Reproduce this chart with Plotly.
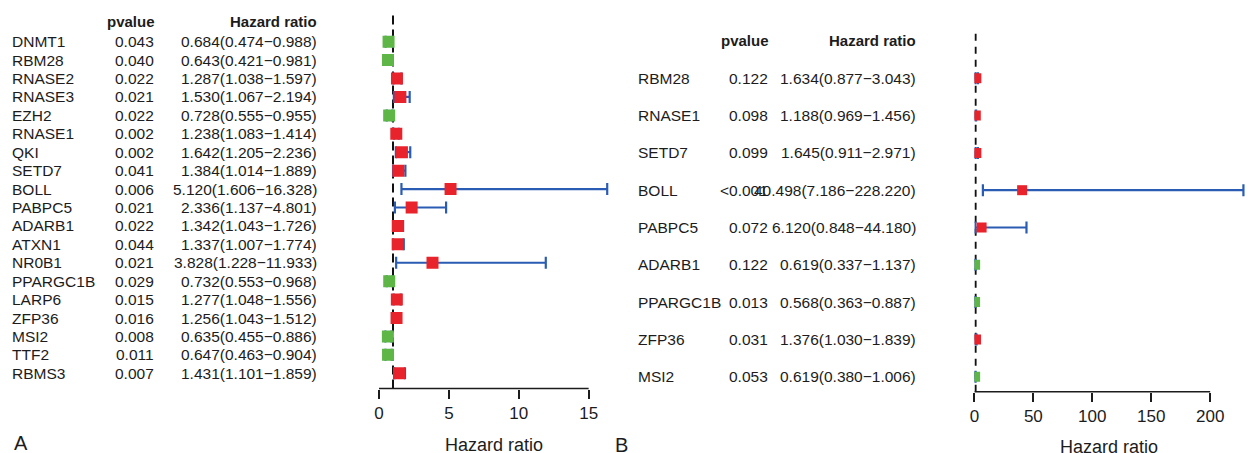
import plotly.graph_objects as go

W, H = 1249, 453

# ---------------- data: panel A ----------------
genes_a = ["DNMT1", "RBM28", "RNASE2", "RNASE3", "EZH2", "RNASE1", "QKI", "SETD7",
           "BOLL", "PABPC5", "ADARB1", "ATXN1", "NR0B1", "PPARGC1B", "LARP6",
           "ZFP36", "MSI2", "TTF2", "RBMS3"]
pval_a = ["0.043", "0.040", "0.022", "0.021", "0.022", "0.002", "0.002", "0.041",
          "0.006", "0.021", "0.022", "0.044", "0.021", "0.029", "0.015",
          "0.016", "0.008", "0.011", "0.007"]
hr_a = [0.684, 0.643, 1.287, 1.530, 0.728, 1.238, 1.642, 1.384, 5.120, 2.336,
        1.342, 1.337, 3.828, 0.732, 1.277, 1.256, 0.635, 0.647, 1.431]
lo_a = [0.474, 0.421, 1.038, 1.067, 0.555, 1.083, 1.205, 1.014, 1.606, 1.137,
        1.043, 1.007, 1.228, 0.553, 1.048, 1.043, 0.455, 0.463, 1.101]
hi_a = [0.988, 0.981, 1.597, 2.194, 0.955, 1.414, 2.236, 1.889, 16.328, 4.801,
        1.726, 1.774, 11.933, 0.968, 1.556, 1.512, 0.886, 0.904, 1.859]
ticks_a = [0, 5, 10, 15]

# ---------------- data: panel B ----------------
genes_b = ["RBM28", "RNASE1", "SETD7", "BOLL", "PABPC5", "ADARB1", "PPARGC1B", "ZFP36", "MSI2"]
pval_b = ["0.122", "0.098", "0.099", "<0.001", "0.072", "0.122", "0.013", "0.031", "0.053"]
hr_b = [1.634, 1.188, 1.645, 40.498, 6.120, 0.619, 0.568, 1.376, 0.619]
lo_b = [0.877, 0.969, 0.911, 7.186, 0.848, 0.337, 0.363, 1.030, 0.380]
hi_b = [3.043, 1.456, 2.971, 228.220, 44.180, 1.137, 0.887, 1.839, 1.006]
ticks_b = [0, 50, 100, 150, 200]

# ---------------- style ----------------
FONT = "Liberation Sans, Arial, Helvetica, sans-serif"
TXT = "#1c1c1c"
RED = "#E8232B"
GREEN = "#5DB646"
BLUE = "#2B5CB4"


def py(p):
    """pixel row (from top) -> paper y"""
    return 1 - p / H


def px(p):
    return p / W


def hr_label(h, l, u):
    return f"{h:.3f}({l:.3f}\u2212{u:.3f})"


fig = go.Figure()

panels = [
    dict(genes=genes_a, pv=pval_a, hr=hr_a, lo=lo_a, hi=hi_a, ticks=ticks_a,
         xa="x", ya="y", msize=12),
    dict(genes=genes_b, pv=pval_b, hr=hr_b, lo=lo_b, hi=hi_b, ticks=ticks_b,
         xa="x2", ya="y2", msize=10),
]

for pn in panels:
    n = len(pn["genes"])
    fig.add_trace(go.Scatter(
        x=pn["hr"], y=list(range(n)), mode="markers",
        xaxis=pn["xa"], yaxis=pn["ya"],
        marker=dict(symbol="square", size=pn["msize"],
                    color=[RED if h > 1 else GREEN for h in pn["hr"]],
                    line=dict(width=0)),
        error_x=dict(type="data", symmetric=False,
                     array=[u - h for h, u in zip(pn["hr"], pn["hi"])],
                     arrayminus=[h - l for h, l in zip(pn["hr"], pn["lo"])],
                     color=BLUE, thickness=2.2, width=6),
        showlegend=False, hoverinfo="skip",
    ))

# geometry (pixels)
A_x0, A_scale, A_right = 375.5, 14.033, 615.0
A_row0, A_step, A_axis = 41.7, 18.42, 388.5
B_x0, B_scale, B_right = 973.3, 1.1835, 1249.0
B_row0, B_step, B_axis = 78.3, 37.3, 391.7

axis_common = dict(showgrid=False, zeroline=False, showline=False,
                   ticks="outside", ticklen=9, tickwidth=1.5, tickcolor=TXT,
                   tickfont=dict(family=FONT, size=17, color=TXT),
                   ticklabelstandoff=0, fixedrange=True)

fig.update_layout(
    width=W, height=H, autosize=False,
    margin=dict(l=0, r=0, t=0, b=0),
    paper_bgcolor="white", plot_bgcolor="rgba(0,0,0,0)",
    xaxis=dict(domain=[px(A_x0), px(A_right)],
               range=[0, (A_right - A_x0) / A_scale],
               tickvals=ticks_a, anchor="y", **axis_common),
    yaxis=dict(domain=[py(A_axis), 1],
               range=[(A_axis - A_row0) / A_step, -A_row0 / A_step],
               visible=False, anchor="x"),
    xaxis2=dict(domain=[px(B_x0), px(B_right)],
                range=[0, (B_right - B_x0) / B_scale],
                tickvals=ticks_b, anchor="y2", **axis_common),
    yaxis2=dict(domain=[py(B_axis), 1],
                range=[(B_axis - B_row0) / B_step, -B_row0 / B_step],
                visible=False, anchor="x2"),
)

shapes = []
# axis lines
shapes.append(dict(type="line", xref="x", yref="paper", x0=ticks_a[0], x1=ticks_a[-1],
                   y0=py(A_axis), y1=py(A_axis), line=dict(color=TXT, width=1.5)))
shapes.append(dict(type="line", xref="x2", yref="paper", x0=ticks_b[0], x1=ticks_b[-1],
                   y0=py(B_axis), y1=py(B_axis), line=dict(color=TXT, width=1.5)))
# reference lines at HR = 1
shapes.append(dict(type="line", xref="x", yref="paper", x0=1, x1=1,
                   y0=py(A_axis), y1=py(14), layer="below",
                   line=dict(color="#111111", width=2, dash="9px,5px")))
shapes.append(dict(type="line", xref="x2", yref="paper", x0=1, x1=1,
                   y0=py(B_axis), y1=py(28), layer="below",
                   line=dict(color="#111111", width=2, dash="7px,6px")))
fig.update_layout(shapes=shapes)

ann = []
f_row = dict(family=FONT, size=15.5, color=TXT)
f_head = dict(family=FONT, size=15, color=TXT, weight="bold")


def table(genes, pv, hr, lo, hi, yref, xg, xp, xh, yhead):
    for i, g in enumerate(genes):
        ann.append(dict(text=g, x=px(xg), xref="paper", y=i, yref=yref,
                        xanchor="left", yanchor="middle", showarrow=False, font=f_row))
        ann.append(dict(text=pv[i], x=px(xp), xref="paper", y=i, yref=yref,
                        xanchor="right", yanchor="middle", showarrow=False, font=f_row))
        ann.append(dict(text=hr_label(hr[i], lo[i], hi[i]), x=px(xh), xref="paper",
                        y=i, yref=yref, xanchor="right", yanchor="middle",
                        showarrow=False, font=f_row))
    ann.append(dict(text="pvalue", x=px(xp + 1), xref="paper", y=py(yhead), yref="paper",
                    xanchor="right", yanchor="middle", showarrow=False, font=f_head))
    ann.append(dict(text="Hazard ratio", x=px(xh), xref="paper", y=py(yhead), yref="paper",
                    xanchor="right", yanchor="middle", showarrow=False, font=f_head))


table(genes_a, pval_a, hr_a, lo_a, hi_a, "y", 5, 152, 315, 21.7)
table(genes_b, pval_b, hr_b, lo_b, hi_b, "y2", 634, 768, 917, 40.7)

f_title = dict(family=FONT, size=18, color=TXT)
ann.append(dict(text="Hazard ratio", x=px(490.8), y=py(445), xref="paper", yref="paper",
                xanchor="center", yanchor="middle", showarrow=False, font=f_title))
ann.append(dict(text="Hazard ratio", x=px(1108), y=py(447), xref="paper", yref="paper",
                xanchor="center", yanchor="middle", showarrow=False, font=f_title))
f_lab = dict(family=FONT, size=20, color=TXT)
ann.append(dict(text="A", x=px(7), y=py(443), xref="paper", yref="paper",
                xanchor="left", yanchor="middle", showarrow=False, font=f_lab))
ann.append(dict(text="B", x=px(610), y=py(445), xref="paper", yref="paper",
                xanchor="left", yanchor="middle", showarrow=False, font=f_lab))
fig.update_layout(annotations=ann)

fig.write_html(
    "out.html",
    config={"displayModeBar": False},
    post_script="document.body.style.margin='0';document.body.style.padding='0';"
                "document.body.style.overflow='hidden';",
)
